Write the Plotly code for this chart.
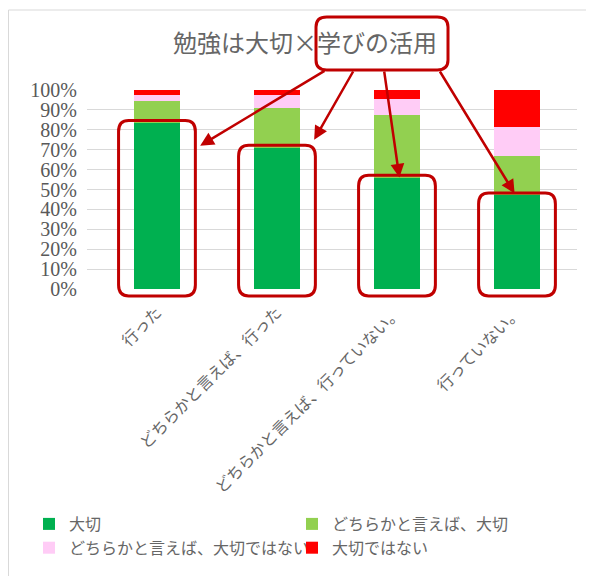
import plotly.graph_objects as go

categories = ["行った", "どちらかと言えば、行った", "どちらかと言えば、行っていない。", "行っていない。"]
series_names = ["大切", "どちらかと言えば、大切", "どちらかと言えば、大切ではない", "大切ではない"]
taisetsu = [0.835, 0.71, 0.56, 0.47]
dochira_taisetsu = [0.11, 0.20, 0.315, 0.20]
dochira_not = [0.03, 0.065, 0.08, 0.145]
not_taisetsu = [0.025, 0.025, 0.045, 0.185]
colors = ["#00B050", "#92D050", "#FFCCF6", "#FF0000"]
title_text = "勉強は大切×学びの活用"

# page body has an 8px default margin; compensate so the chart lands where the reference has it
OFF = 8
W, H = 594 - OFF, 576 - OFF
SX0, SX1, SY0, SY1 = 87, 577, 90, 289       # plot area in screen pixels
L, T = SX0 - OFF, SY0 - OFF
R = W - (SX1 - OFF)
B = H - (SY1 - OFF)
PW, PH = SX1 - SX0, SY1 - SY0
XR = [-0.583, 3.5]
XS = PW / (XR[1] - XR[0])

def px2paper(px, py):
    return (px - SX0) / PW, (SY1 - py) / PH

def px2data(px, py):
    return XR[0] + (px - SX0) / XS, (SY1 - py) / PH

def x2paper(x):
    return (x - XR[0]) / (XR[1] - XR[0])

def rounded_path(x0, y0, x1, y1, rx, ry):
    return (f"M {x0+rx},{y0} L {x1-rx},{y0} Q {x1},{y0} {x1},{y0+ry} "
            f"L {x1},{y1-ry} Q {x1},{y1} {x1-rx},{y1} L {x0+rx},{y1} "
            f"Q {x0},{y1} {x0},{y1-ry} L {x0},{y0+ry} Q {x0},{y0} {x0+rx},{y0} Z")

fig = go.Figure()
idx = list(range(len(categories)))
for name, vals, col in zip(series_names, [taisetsu, dochira_taisetsu, dochira_not, not_taisetsu], colors):
    fig.add_trace(go.Bar(x=idx, y=vals, name=name, marker=dict(color=col, line=dict(width=0))))

shapes = []
# outer chart border
bx0, by0 = px2paper(OFF + 0.5, 600)
bx1, by1 = px2paper(589, 10)
shapes.append(dict(type="rect", xref="paper", yref="paper", x0=bx0, y0=by0, x1=bx1, y1=by1,
                   line=dict(color="#D9D9D9", width=1), layer="below"))
# highlight boxes around the dark green segments (paper refs so they are not clipped; y range is [0,1])
rx = 0.085 / (XR[1] - XR[0])
for i, v in enumerate(taisetsu):
    shapes.append(dict(type="path", xref="paper", yref="paper",
                       path=rounded_path(x2paper(i - 0.32), -0.035, x2paper(i + 0.32), v + 0.012, rx, 0.055),
                       line=dict(color="#C00000", width=3)))
# box around part of the title
tx0, ty0 = px2paper(316, 70)
tx1, ty1 = px2paper(448, 17)
shapes.append(dict(type="path", xref="paper", yref="paper",
                   path=rounded_path(tx0, ty0, tx1, ty1, 0.022, 0.05),
                   line=dict(color="#C00000", width=3)))

annotations = []
heads = [(0 + 0.36, taisetsu[0] - 0.115), (1 + 0.31, taisetsu[1] + 0.04),
         (2 + 0.02, taisetsu[2]), (3 - 0.02, taisetsu[3] + 0.01)]
tails_px = [(326, 70), (354, 70), (384, 70), (439, 70)]
for (hx, hy), (tpx, tpy) in zip(heads, tails_px):
    tx, ty = px2data(tpx, tpy)
    annotations.append(dict(x=hx, y=hy, xref="x", yref="y", ax=tx, ay=ty, axref="x", ayref="y",
                            text="", showarrow=True, arrowhead=2, arrowsize=1.1, arrowwidth=2.5,
                            arrowcolor="#C00000", standoff=0))

fig.update_layout(
    width=W, height=H,
    margin=dict(l=L, r=R, t=T, b=B, autoexpand=False),
    barmode="stack", bargap=0.61,
    paper_bgcolor="white", plot_bgcolor="white",
    font=dict(family="Noto Sans CJK JP", color="#595959"),
    title=dict(text=title_text, x=(305 - OFF) / W, xanchor="center", xref="container",
               y=1 - (44 - OFF) / H, yanchor="middle", yref="container",
               font=dict(size=24, color="#666666")),
    xaxis=dict(range=XR, tickmode="array", tickvals=idx, ticktext=categories,
               tickangle=-45, tickfont=dict(size=16, color="#666666"),
               showline=False, showgrid=False, zeroline=False, ticks="", ticklabelstandoff=10),
    yaxis=dict(range=[0, 1], dtick=0.1, tickformat=".0%",
               tickfont=dict(size=20, color="#595959", family="Liberation Serif"),
               showgrid=True, gridcolor="#D9D9D9", gridwidth=1, zeroline=False, showline=False,
               ticks="", ticklabelstandoff=9),
    legend=dict(orientation="h", x=px2paper(29, 0)[0], xanchor="left",
                y=px2paper(0, 507)[1], yanchor="top", entrywidth=218, itemwidth=30,
                traceorder="normal", font=dict(size=16, color="#666666")),
    shapes=shapes, annotations=annotations,
)

fig.write_html("out.html")
